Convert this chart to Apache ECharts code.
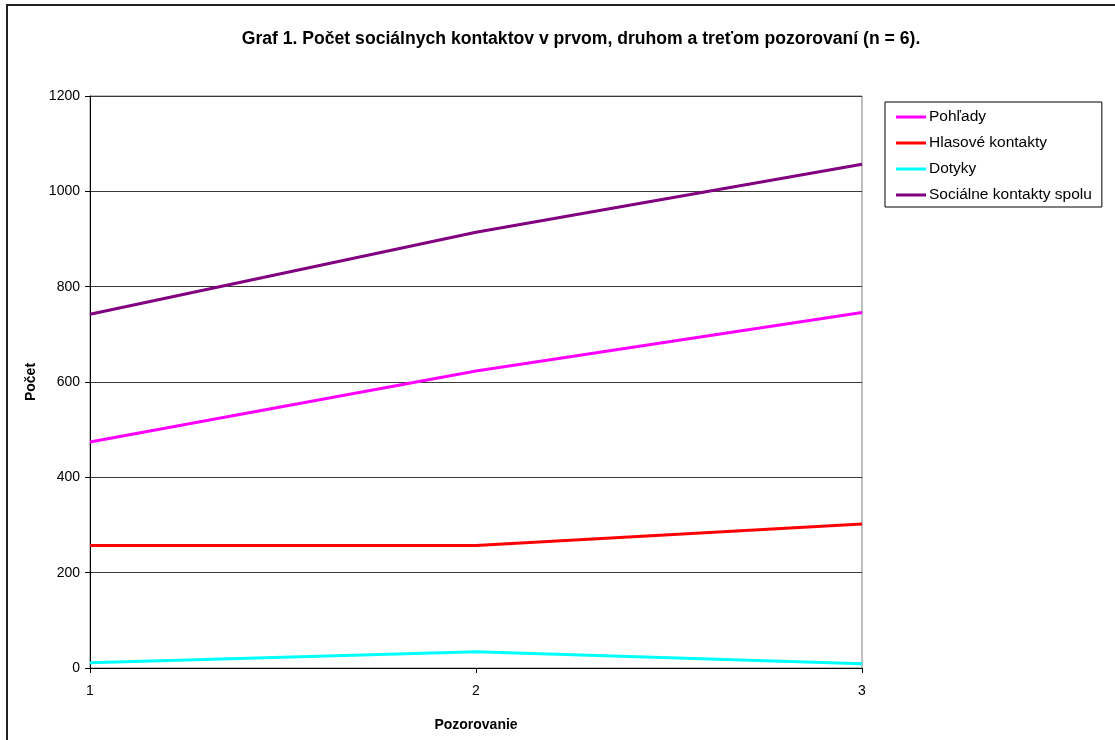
<!DOCTYPE html>
<html>
<head>
<meta charset="utf-8">
<script src="https://cdn.jsdelivr.net/npm/echarts@6/dist/echarts.min.js"></script>
<style>
  html, body { margin: 0; padding: 0; background: #fff; }
  #chart { width: 1115px; height: 740px; }
</style>
</head>
<body>
<div id="chart"></div>
<script>
// Observation rounds
const categories = ['1', '2', '3'];
// Counts per kind of social contact
const pohlady = [474, 623, 746];
const hlasove = [257, 257, 302];
const dotyky = [11, 34, 9];
const spolu = [742, 914, 1057];
const yTicks = { min: 0, max: 1200, interval: 200 };

const FONT = '"Liberation Sans", Arial, sans-serif';

const chart = echarts.init(document.getElementById('chart'), null, { renderer: 'canvas' });

function lineSeries(name, data, color) {
  return {
    name: name,
    type: 'line',
    data: data,
    symbol: 'none',
    showSymbol: false,
    lineStyle: { color: color, width: 3 },
    itemStyle: { color: color },
    animation: false
  };
}

chart.setOption({
  backgroundColor: '#ffffff',
  animation: false,
  title: {
    text: 'Graf 1. Počet sociálnych kontaktov v prvom, druhom a treťom pozorovaní (n = 6).',
    left: 576,
    top: 25,
    textAlign: 'center',
    textStyle: { fontFamily: FONT, fontSize: 17.6, fontWeight: 'bold', color: '#000' }
  },
  legend: {
    orient: 'vertical',
    left: 885,
    top: 102,
    padding: [6, 10, 3, 11],
    itemGap: 8,
    itemWidth: 30,
    itemHeight: 3,
    icon: 'rect',
    borderColor: '#000',
    borderWidth: 1,
    borderRadius: 0,
    backgroundColor: '#fff',
    textStyle: { fontFamily: FONT, fontSize: 15.5, color: '#000', lineHeight: 18, padding: [0, 0, 0, -2] },
    data: ['Pohľady', 'Hlasové kontakty', 'Dotyky', 'Sociálne kontakty spolu']
  },
  grid: {
    left: 90,
    right: 253,
    top: 96,
    bottom: 72,
    show: true,
    borderColor: '#808080',
    borderWidth: 1,
    backgroundColor: '#fff'
  },
  xAxis: {
    type: 'category',
    data: categories,
    boundaryGap: false,
    name: 'Pozorovanie',
    nameLocation: 'middle',
    nameGap: 50,
    nameTextStyle: { fontFamily: FONT, fontSize: 14, fontWeight: 'bold', color: '#000' },
    axisLine: { lineStyle: { color: '#000', width: 1 } },
    axisTick: { show: true, length: 5, inside: false, alignWithLabel: true, lineStyle: { color: '#000' } },
    axisLabel: { fontFamily: FONT, fontSize: 14, color: '#000', margin: 16 },
    splitLine: { show: false }
  },
  yAxis: {
    type: 'value',
    min: yTicks.min,
    max: yTicks.max,
    interval: yTicks.interval,
    name: 'Počet',
    nameLocation: 'middle',
    nameGap: 50,
    nameRotate: 90,
    nameTextStyle: { fontFamily: FONT, fontSize: 14, fontWeight: 'bold', color: '#000' },
    axisLine: { show: true, lineStyle: { color: '#000', width: 1 } },
    axisTick: { show: true, length: 5, lineStyle: { color: '#000' } },
    axisLabel: { fontFamily: FONT, fontSize: 14, color: '#000', margin: 10, formatter: v => String(v) },
    splitLine: { show: true, lineStyle: { color: '#3a3a3a', width: 1 } }
  },
  graphic: [{
    type: 'rect',
    shape: { x: 7, y: 5, width: 1200, height: 800 },
    style: { fill: 'none', stroke: '#222', lineWidth: 2 },
    silent: true,
    z: 100
  }],
  series: [
    lineSeries('Pohľady', pohlady, '#FF00FF'),
    lineSeries('Hlasové kontakty', hlasove, '#FF0000'),
    lineSeries('Dotyky', dotyky, '#00FFFF'),
    lineSeries('Sociálne kontakty spolu', spolu, '#800080')
  ]
});
</script>
</body>
</html>
